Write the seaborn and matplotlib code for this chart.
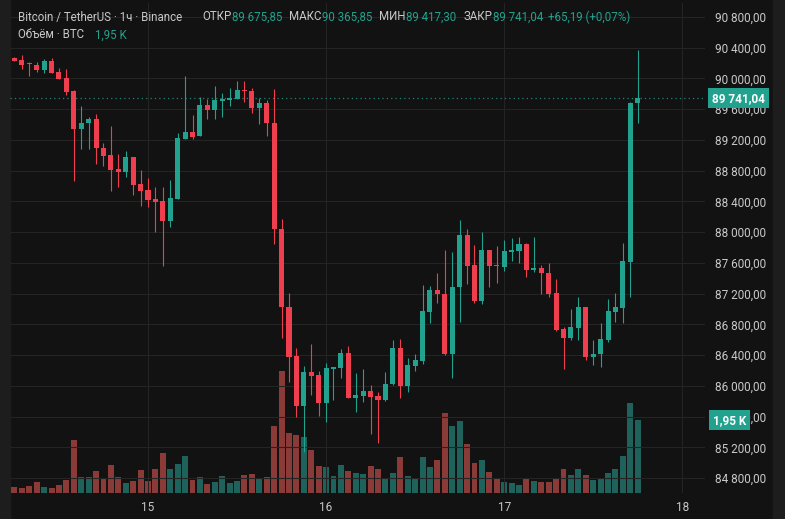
import numpy as np
import pandas as pd
import seaborn as sns
import matplotlib
matplotlib.use("Agg")
import matplotlib.pyplot as plt
from matplotlib import transforms
from matplotlib.patches import Rectangle

# BTC/USDT 1h candles, hour 0 = 15 Dec 00:00
hours = np.arange(-18, 67)

opens = [90263, 90241, 90198, 90176, 90111, 90232, 90081, 90003, 89837, 89339,
         89417, 89473, 89092, 89005, 88823, 88780, 88975, 88624, 88549, 88432,
         88402, 88146, 88432, 89213, 89300, 89252, 89655, 89590, 89707, 89720,
         89733, 89850, 89837, 89612, 89685, 89417, 88038, 87023, 86390, 85743,
         86178, 86143, 85774, 86217, 86230, 86425, 85847, 85869, 85934, 85869,
         85817, 86022, 86490, 86003, 86264, 86325, 86966, 87248, 87192, 86416,
         87284, 87964, 87574, 87109, 87769, 87574, 87552, 87747, 87760, 87847,
         87509, 87531, 87466, 87205, 86741, 86620, 86758, 87031, 86381, 86412,
         86598, 86966, 87010, 87617, 89675.85]
highs = [90276, 90306, 90219, 90219, 90250, 90263, 90133, 90120, 89850, 89642,
         89495, 89538, 89157, 89382, 89014, 89057, 88975, 88810, 88702, 88592,
         88585, 88679, 89287, 90033, 89525, 89763, 89729, 89902, 89815, 89873,
         89967, 89967, 89873, 89742, 89720, 89859, 88168, 87205, 86490, 86260,
         86546, 86195, 86295, 86251, 86477, 86524, 86165, 86217, 86012, 85917,
         86186, 86598, 86607, 86368, 86412, 87313, 87304, 87466, 87769, 87747,
         88159, 88042, 87834, 87999, 87769, 87825, 87899, 87929, 87934, 87856,
         87942, 87574, 87596, 87392, 86771, 86997, 87153, 87031, 86598, 86823,
         87127, 87205, 87856, 89700, 90365.85]
lows = [90224, 90120, 90036, 90081, 90068, 90068, 89990, 89785, 88670, 89087,
        89079, 88884, 88862, 88536, 88592, 88715, 88484, 88345, 88332, 88007,
        87561, 88064, 88428, 89213, 89213, 89252, 89473, 89469, 89503, 89642,
        89729, 89694, 89547, 89408, 89252, 87847, 86620, 86055, 85600, 85145,
        85882, 85613, 85527, 85817, 86100, 85839, 85657, 85795, 85375, 85262,
        85808, 86012, 85847, 85925, 86195, 86282, 86815, 87075, 86403, 86100,
        86836, 87326, 87083, 87066, 87284, 87336, 87496, 87630, 87596, 87421,
        87486, 87192, 87161, 86719, 86217, 86598, 86598, 86338, 86273, 86243,
        86576, 86828, 86815, 87161, 89417.30]
closes = [90232, 90176, 90185, 90111, 90228, 90075, 89993, 89828, 89339, 89417,
          89473, 89092, 88992, 88810, 88787, 88983, 88614, 88540, 88419, 88389,
          88146, 88441, 89222, 89300, 89243, 89655, 89590, 89720, 89729, 89742,
          89850, 89837, 89612, 89685, 89417, 88038, 87023, 86381, 85743, 86178,
          86133, 85774, 86230, 86243, 86425, 85847, 85882, 85934, 85860, 85817,
          86025, 86490, 86003, 86273, 86338, 86975, 87248, 87192, 86416, 87284,
          87964, 87565, 87109, 87769, 87565, 87561, 87756, 87769, 87847, 87509,
          87531, 87466, 87196, 86728, 86620, 86763, 87031, 86381, 86412, 86607,
          86975, 87023, 87626, 89676, 89741.04]
volumes = [153, 126, 180, 287, 153, 134, 206, 340, 1412, 421,
           421, 582, 367, 742, 421, 260, 314, 608, 314, 635,
           1064, 635, 777, 984, 340, 421, 233, 287, 448, 260,
           314, 474, 501, 394, 421, 1788, 3262, 1600, 1546, 1493,
           1144, 716, 689, 448, 742, 582, 528, 501, 716, 635,
           367, 528, 957, 448, 394, 957, 689, 876, 2136, 1788,
           1922, 1313, 804, 876, 555, 394, 287, 260, 206, 367,
           314, 287, 287, 394, 635, 474, 635, 474, 340, 394,
           528, 635, 984, 2404, 1950]

day_ticks = [0, 24, 48, 72]
day_labels = ["15", "16", "17", "18"]
price_ticks = np.arange(84800, 90801, 400)

header_items = [("ОТКР", "89 675,85"), ("МАКС", "90 365,85"),
                ("МИН", "89 417,30"), ("ЗАКР", "89 741,04")]
change_text = "+65,19 (+0,07%)"

BG = "#121212"
UP = "#22a28e"
DOWN = "#ef3f4e"
UP_VOL = "#1f625b"
DOWN_VOL = "#8a3b38"
TXT = "#c9c9c9"

df = pd.DataFrame({"hour": hours, "open": opens, "high": highs, "low": lows,
                   "close": closes, "volume": volumes})
df["dir"] = np.where(df["close"] >= df["open"], "up", "down")

sns.set_theme(style="dark", rc={"axes.facecolor": BG, "figure.facecolor": BG})
plt.rcParams["font.family"] = ["Roboto", "DejaVu Sans"]

W, H = 785, 519
fig = plt.figure(figsize=(W / 100, H / 100), dpi=100)
fig.patch.set_facecolor(BG)
rect = [10 / W, (H - 493) / H, 695 / W, 490 / H]

# volume pane underneath
axv = fig.add_axes(rect)
sns.barplot(data=df, x="hour", y="volume", hue="dir", native_scale=True,
            palette={"up": UP_VOL, "down": DOWN_VOL}, hue_order=["up", "down"],
            dodge=False, width=0.8, saturation=1, errorbar=None, legend=False,
            linewidth=0, edgecolor="none", ax=axv)
axv.set_ylim(0, 13130)
axv.set_axis_off()

ax = fig.add_axes(rect, sharex=axv)
ax.patch.set_alpha(0)
cols = np.where(df["dir"] == "up", UP, DOWN)
ax.vlines(df["hour"], df["low"], df["high"], colors=cols, linewidth=0.8, zorder=3)
body = (df["close"] - df["open"]).abs().clip(lower=14)
ax.bar(df["hour"], body, bottom=df[["open", "close"]].min(axis=1), width=0.68,
       color=cols, linewidth=0, zorder=4)

ax.set_xlim(-18.6, 75.07)
ax.set_ylim(84607, 90982)
ax.set_xticks(day_ticks)
ax.set_xticklabels(day_labels)
ax.set_yticks(price_ticks)
ax.set_yticklabels([f"{v:,.2f}".replace(",", " ").replace(".", ",") for v in price_ticks])
ax.yaxis.tick_right()
ax.tick_params(axis="both", length=0, colors=TXT, labelsize=8.5)
ax.tick_params(axis="y", pad=7)
ax.tick_params(axis="x", pad=6)
ax.grid(True, color="#242424", linewidth=0.8)
ax.set_axisbelow(True)
for s in ax.spines.values():
    s.set_visible(False)
ax.set_xlabel("")
ax.set_ylabel("")

# last price line and labels
last = closes[-1]
ax.axhline(last, color=UP, linewidth=0.9, linestyle=(0, (1, 2.5)), alpha=0.8, zorder=2)
tr = transforms.blended_transform_factory(ax.transAxes, ax.transData)
ax.text(1 + 7 / 695, last, "89 741,04", transform=tr, ha="left", va="center",
        color="white", fontsize=8.5, fontweight="bold", clip_on=False, zorder=10,
        bbox=dict(boxstyle="square,pad=0.3", fc=UP, ec="none"))
trv = transforms.blended_transform_factory(ax.transAxes, axv.transData)
ax.text(1 + 8 / 695, volumes[-1], "1,95 K", transform=trv, ha="left", va="center",
        color="white", fontsize=8.5, fontweight="bold", clip_on=False, zorder=10,
        bbox=dict(boxstyle="square,pad=0.3", fc=UP, ec="none"))

# side strips
fig.patches.append(Rectangle((0, 0), 10 / W, 1, transform=fig.transFigure,
                             color="#1d1d1d", zorder=-1))
fig.patches.append(Rectangle((773 / W, 0), 12 / W, 1, transform=fig.transFigure,
                             color="#1d1d1d", zorder=-1))

# header, laid out piece by piece
renderer = fig.canvas.get_renderer()


def put(x, y, s, c=TXT):
    t = fig.text(x / W, 1 - y / H, s, color=c, fontsize=8.3, va="center", ha="left")
    return t.get_window_extent(renderer).x1


put(18, 17, "Bitcoin / TetherUS · 1ч · Binance")
x = 202
for lab, val in header_items:
    x = put(x, 17, lab)
    x = put(x + 0.5, 17, val, UP) + 7
put(x - 2, 17, change_text, UP)
put(18, 35, "Объём · BTC")
put(95, 35, "1,95 K", UP)

fig.savefig("out.png", dpi=100, facecolor=BG)
